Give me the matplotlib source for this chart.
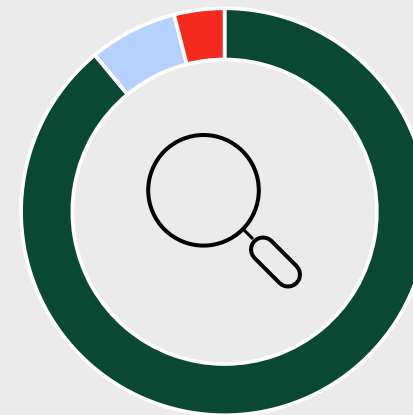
import matplotlib
matplotlib.use("Agg")
import matplotlib.pyplot as plt
from matplotlib.patches import Circle

# shares going clockwise from 12 o'clock
categories = ["green", "blue", "red"]
shares = [89, 7, 4]
colors = ["#0A4833", "#B5D2FF", "#F52A1E"]

BG = "#EBEBEB"
W, H = 413, 415
PX = 72 / 100  # one pixel in points at dpi 100


def flip(y):
    return H - y


fig = plt.figure(figsize=(W / 100, H / 100), dpi=100, facecolor=BG)
ax = fig.add_axes([0, 0, 1, 1])
ax.set_facecolor(BG)

ax.pie(
    shares,
    colors=colors,
    startangle=90,
    counterclock=False,
    center=(224.6, flip(211.75)),
    radius=203.5,
    frame=True,
    wedgeprops={"width": 51.25, "edgecolor": "white", "linewidth": 3.7 * PX},
)
ax.set_xlim(0, W)
ax.set_ylim(0, H)
ax.set_aspect("equal")
ax.axis("off")

# magnifying glass icon
ax.add_patch(Circle((203.5, flip(190.3)), 55.3, facecolor="none", edgecolor="black",
                    linewidth=4 * PX, zorder=4))
ax.plot([244, 253], [flip(230), flip(239)], color="black", lw=3 * PX,
        solid_capstyle="butt", zorder=4)
ax.plot([263, 288], [flip(249.5), flip(274.5)], color="black", lw=28 * PX,
        solid_capstyle="round", zorder=4)
ax.plot([263, 288], [flip(249.5), flip(274.5)], color=BG, lw=20 * PX,
        solid_capstyle="round", zorder=5)

fig.savefig("out.png", dpi=100, facecolor=BG)
